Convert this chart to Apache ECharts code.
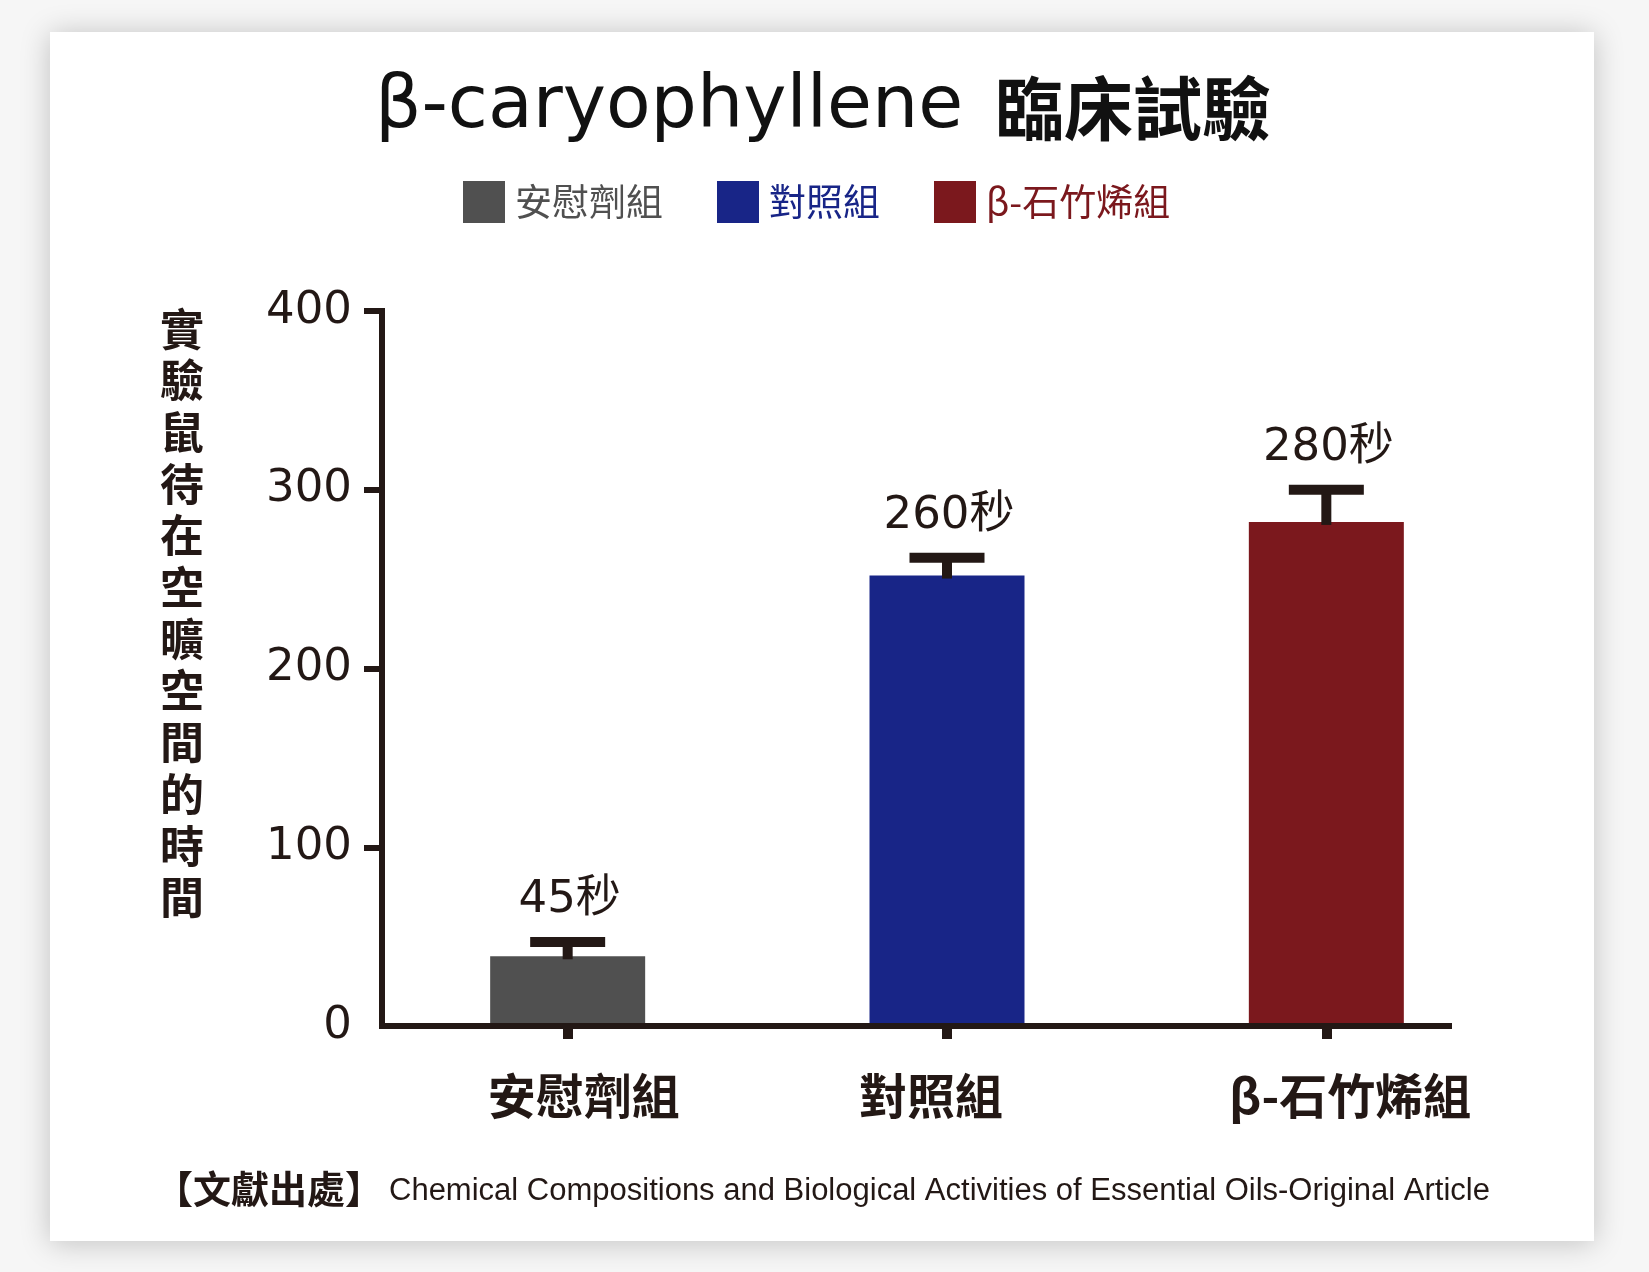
<!DOCTYPE html>
<html>
<head>
<meta charset="utf-8">
<script src="https://cdn.jsdelivr.net/npm/echarts@6/dist/echarts.min.js"></script>
<style>
html,body{margin:0;padding:0;background:#f6f6f6;}
#chart{width:1649px;height:1272px;}
</style>
</head>
<body>
<div id="chart"></div>
<script>
// ---- data ----
const titleLatin = 'β-caryophyllene';
const titleCJK = '臨床試驗';
const categories = ['安慰劑組', '對照組', 'β-石竹烯組'];
const barValues = [39, 252, 282];
const errorTops = [47, 262, 300];
const valueLabels = ['45秒', '260秒', '280秒'];
const yTicks = [0, 100, 200, 300, 400];
const yAxisName = '實驗鼠待在空曠空間的時間';
const sourceLabel = '【文獻出處】';
const sourceText = 'Chemical Compositions and Biological Activities of Essential Oils-Original Article';

// ---- styles ----
const colors = ['#505050', '#182587', '#7b181d'];
const ink = '#231815';
const cjk = "'Noto Sans CJK TC', 'Noto Sans CJK SC', sans-serif";
const latin = "'DejaVu Sans', 'Noto Sans CJK TC', sans-serif";

const chart = echarts.init(document.getElementById('chart'));

const barSeries = categories.map((name, i) => ({
  name: name,
  type: 'bar',
  stack: 'g',
  xAxisIndex: 0,
  yAxisIndex: 0,
  barWidth: 155,
  itemStyle: { color: colors[i] },
  z: 2,
  data: categories.map((c, j) => (j === i ? barValues[i] : '-'))
}));

const labelShift = [
  [0, 0, 0, 32],
  [0, 32, 0, 0],
  [0, 0, 0, 48]
];
const richX = {};
labelShift.forEach((p, i) => {
  richX['l' + i] = { padding: p, fontSize: 48, fontWeight: 'bold', fontFamily: cjk, color: ink };
});

const option = {
  backgroundColor: '#f6f6f6',
  animation: false,
  graphic: [
    {
      type: 'rect', z: -10, silent: true,
      shape: { x: 50, y: 32, width: 1544, height: 1209 },
      style: { fill: '#ffffff', shadowBlur: 28, shadowColor: 'rgba(0,0,0,0.22)', shadowOffsetX: 0, shadowOffsetY: 2 }
    },
    {
      type: 'text', z: 10, silent: true,
      style: {
        text: yAxisName.split('').join('\n'),
        x: 182, y: 303,
        align: 'center', verticalAlign: 'top',
        fontSize: 44, fontWeight: 'bold', fontFamily: cjk,
        lineHeight: 51.7, fill: ink
      }
    }
  ],
  title: [
    {
      text: '{a|' + titleLatin + '}{b|' + titleCJK + '}',
      left: 818, top: 67, textAlign: 'center',
      textStyle: {
        rich: {
          a: { fontSize: 73, fontFamily: latin, color: '#111', fontWeight: 'normal' },
          b: { fontSize: 69, fontFamily: cjk, color: '#111', fontWeight: 'bold', padding: [0, 0, 0, 32] }
        }
      }
    },
    {
      text: '{a|' + sourceLabel + '}{b|' + sourceText + '}',
      left: 150, top: 1165,
      textStyle: {
        rich: {
          a: { fontSize: 38, fontFamily: cjk, fontWeight: 'bold', color: ink },
          b: { fontSize: 31, fontFamily: "'Liberation Sans', sans-serif", fontWeight: 'normal', color: ink, padding: [4, 0, 0, 6] }
        }
      }
    }
  ],
  legend: {
    top: 176, left: 458,
    itemWidth: 42, itemHeight: 42, itemGap: 54,
    icon: 'rect',
    data: categories.map((c, i) => ({
      name: c,
      textStyle: { color: colors[i] }
    })),
    textStyle: { fontSize: 37, fontFamily: cjk, padding: [0, 0, 0, 5] }
  },
  grid: [
    { left: 378, width: 1138, top: 311, height: 715 },
    { left: 382, width: 1067, top: 311, height: 715 }
  ],
  xAxis: [
    {
      type: 'category', gridIndex: 0, data: categories,
      axisLine: { show: false },
      axisTick: { show: true, alignWithLabel: true, length: 13, lineStyle: { width: 10, color: ink } },
      axisLabel: {
        margin: 46,
        formatter: (v, i) => '{l' + i + '|' + v + '}',
        rich: richX
      },
      splitLine: { show: false }
    },
    {
      type: 'value', gridIndex: 1, min: 0, max: 1, z: 10,
      axisLine: { show: true, lineStyle: { width: 6, color: ink, cap: 'square' } },
      axisTick: { show: false }, axisLabel: { show: false }, splitLine: { show: false }
    }
  ],
  yAxis: [
    { type: 'value', gridIndex: 0, min: 0, max: 400, show: false },
    {
      type: 'value', gridIndex: 1, min: yTicks[0], max: yTicks[yTicks.length - 1], interval: 100, z: 10,
      axisLine: { show: true, lineStyle: { width: 6, color: ink, cap: 'square' } },
      axisTick: { show: true, length: 18, lineStyle: { width: 6, color: ink }, customValues: yTicks.slice(1) },
      axisLabel: { margin: 30, fontSize: 45, fontFamily: latin, color: ink, customValues: yTicks },
      splitLine: { show: false }
    }
  ],
  series: barSeries.concat([
    {
      type: 'custom',
      xAxisIndex: 0, yAxisIndex: 0, z: 5,
      data: categories.map((c, i) => [i, barValues[i], errorTops[i]]),
      renderItem: function (params, api) {
        const top = api.coord([api.value(0), api.value(1)]);
        const err = api.coord([api.value(0), api.value(2)]);
        const cx = top[0];
        return {
          type: 'group',
          children: [
            { type: 'rect', shape: { x: cx - 5, y: err[1], width: 10, height: top[1] - err[1] + 3 }, style: { fill: ink } },
            { type: 'rect', shape: { x: cx - 37.5, y: err[1] - 5, width: 75, height: 10 }, style: { fill: ink } },
            {
              type: 'text',
              style: {
                text: valueLabels[params.dataIndex],
                x: cx + 2, y: err[1] - 19,
                align: 'center', verticalAlign: 'bottom',
                fontSize: 45, fontFamily: latin, fill: ink
              }
            }
          ]
        };
      }
    }
  ])
};
chart.setOption(option);
</script>
</body>
</html>
